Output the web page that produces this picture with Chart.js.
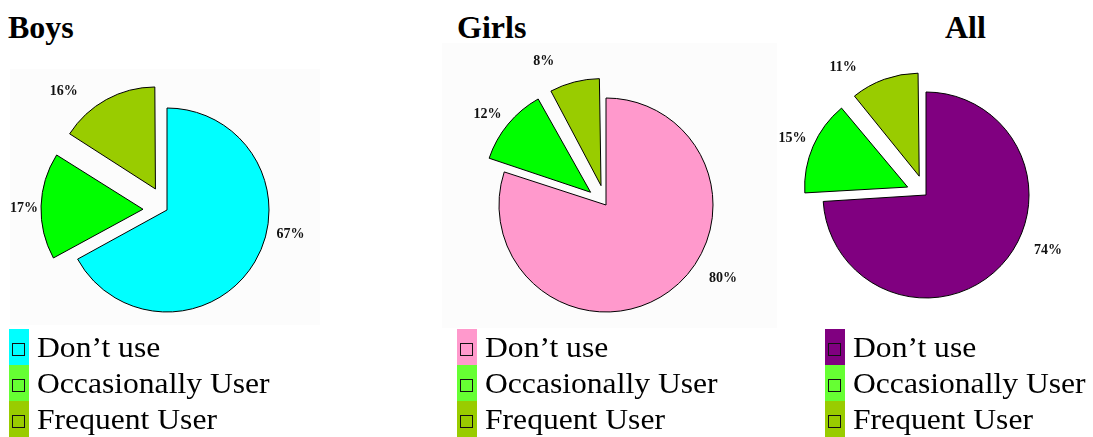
<!DOCTYPE html>
<html>
<head>
<meta charset="utf-8">
<script src="https://cdn.jsdelivr.net/npm/chart.js@4/dist/chart.umd.min.js"></script>
<style>
  html, body { margin: 0; padding: 0; background: #fff; }
  body { width: 1093px; height: 437px; position: relative; overflow: hidden; font-family: "Liberation Serif", "Times New Roman", serif; }
  .panel { position: absolute; background: #fcfcfc; }
  .title { position: absolute; font-weight: bold; font-size: 32px; line-height: 32px; color: #000; }
  canvas { position: absolute; }
  .legend { position: absolute; }
  .row { position: relative; height: 36px; }
  .swatch { position: absolute; left: 0; top: 0; width: 20px; height: 36px; }
  .box { position: absolute; left: 3px; top: 14px; width: 11px; height: 11px; border: 1.5px solid #111; }
  .lbl { position: absolute; left: 28px; top: 0; font-size: 29px; line-height: 36px; white-space: nowrap; color: #000; transform: scaleX(1.09); transform-origin: left center; }
</style>
</head>
<body>
<div class="panel" style="left:10px;top:69px;width:310px;height:256px"></div>
<div class="panel" style="left:442px;top:43px;width:335px;height:285px"></div>

<div class="title" style="left:8px;top:11px">Boys</div>
<div class="title" style="left:457px;top:11px">Girls</div>
<div class="title" style="left:945px;top:11px">All</div>

<canvas id="boys" width="320" height="320" style="left:7px;top:50px"></canvas>
<canvas id="girls" width="320" height="320" style="left:446px;top:45px"></canvas>
<canvas id="all" width="320" height="320" style="left:766px;top:35px"></canvas>

<div class="legend" id="legBoys" style="left:9px;top:329px"></div>
<div class="legend" id="legGirls" style="left:457px;top:329px"></div>
<div class="legend" id="legAll" style="left:825px;top:329px"></div>

<script>
// categories and values (percent)
const categories = ["Don’t use", "Occasionally User", "Frequent User"];
const boysValues = [67, 17, 16];
const girlsValues = [80, 12, 8];
const allValues = [74, 15, 11];

// slice colours
const boysColors = ["#00ffff", "#00ff00", "#99cc00"];
const girlsColors = ["#ff99cc", "#00ff00", "#99cc00"];
const allColors = ["#800080", "#00ff00", "#99cc00"];
// legend swatch colours (a bit lighter green in the scan)
const boysLegend = ["#00ffff", "#66ff33", "#99cc00"];
const girlsLegend = ["#ff99cc", "#66ff33", "#99cc00"];
const allLegend = ["#800080", "#66ff33", "#99cc00"];

// Chart.js grows exploded slices a little (radiusOffset), undo that so all
// slices keep the same radius like in the original
const keepRadius = {
  id: "keepRadius",
  beforeDatasetsDraw(chart) {
    const base = chart.options.radius;
    chart.getDatasetMeta(0).data.forEach((arc) => {
      const off = (arc.options.offset || 0) / 4;
      const fix = 1 - Math.sin(Math.min(Math.PI, arc.circumference || 0));
      arc.outerRadius = base - off * fix;
    });
  }
};

// percentage labels drawn next to each slice
const pctLabels = {
  id: "pctLabels",
  afterDatasetsDraw(chart, args, opts) {
    const ctx = chart.ctx;
    const meta = chart.getDatasetMeta(0);
    const ds = chart.data.datasets[0];
    const base = chart.options.radius;
    ctx.save();
    ctx.font = "bold 14px 'Liberation Serif', serif";
    ctx.fillStyle = "#111";
    ctx.textAlign = "center";
    ctx.textBaseline = "middle";
    meta.data.forEach((arc, i) => {
      const p = arc.getProps(["x", "y", "startAngle", "endAngle"], true);
      const mid = (p.startAngle + p.endAngle) / 2;
      const off = (ds.offset[i] || 0) / 4; // arc element moves by offset/4
      const cx = p.x + Math.cos(mid) * off;
      const cy = p.y + Math.sin(mid) * off;
      const a = p.startAngle + (p.endAngle - p.startAngle) * opts.at[i];
      const r = base + opts.dist[i];
      ctx.fillText(ds.data[i] + "%", cx + Math.cos(a) * r, cy + Math.sin(a) * r);
    });
    ctx.restore();
  }
};

function makePie(id, values, colors, radius, offset, at, dist) {
  return new Chart(document.getElementById(id), {
    type: "pie",
    data: {
      labels: categories,
      datasets: [{
        data: values,
        backgroundColor: colors,
        borderColor: "#000",
        borderWidth: 1,
        offset: offset,
      }],
    },
    options: {
      responsive: false,
      animation: false,
      events: [],
      radius: radius,
      layout: { padding: 0 },
      plugins: {
        legend: { display: false },
        tooltip: { enabled: false },
        pctLabels: { at: at, dist: dist },
      },
    },
    plugins: [keepRadius, pctLabels],
  });
}

makePie("boys", boysValues, boysColors, 102, [0, 96, 96], [0.42, 0.48, 0.25], [24, 17, 32]);
makePie("girls", girlsValues, girlsColors, 107, [0, 80, 80], [0.424, 0.44, 0.14], [31, 22, 30]);
makePie("all", allValues, allColors, 103, [0, 80, 80], [0.43, 0.49, 0.12], [31, 22, 30]);

function makeLegend(id, colors) {
  const el = document.getElementById(id);
  categories.forEach((c, i) => {
    const row = document.createElement("div");
    row.className = "row";
    row.innerHTML = '<div class="swatch" style="background:' + colors[i] + '"><div class="box"></div></div>' +
      '<div class="lbl"></div>';
    row.querySelector(".lbl").textContent = c;
    el.appendChild(row);
  });
}
makeLegend("legBoys", boysLegend);
makeLegend("legGirls", girlsLegend);
makeLegend("legAll", allLegend);
</script>
</body>
</html>
